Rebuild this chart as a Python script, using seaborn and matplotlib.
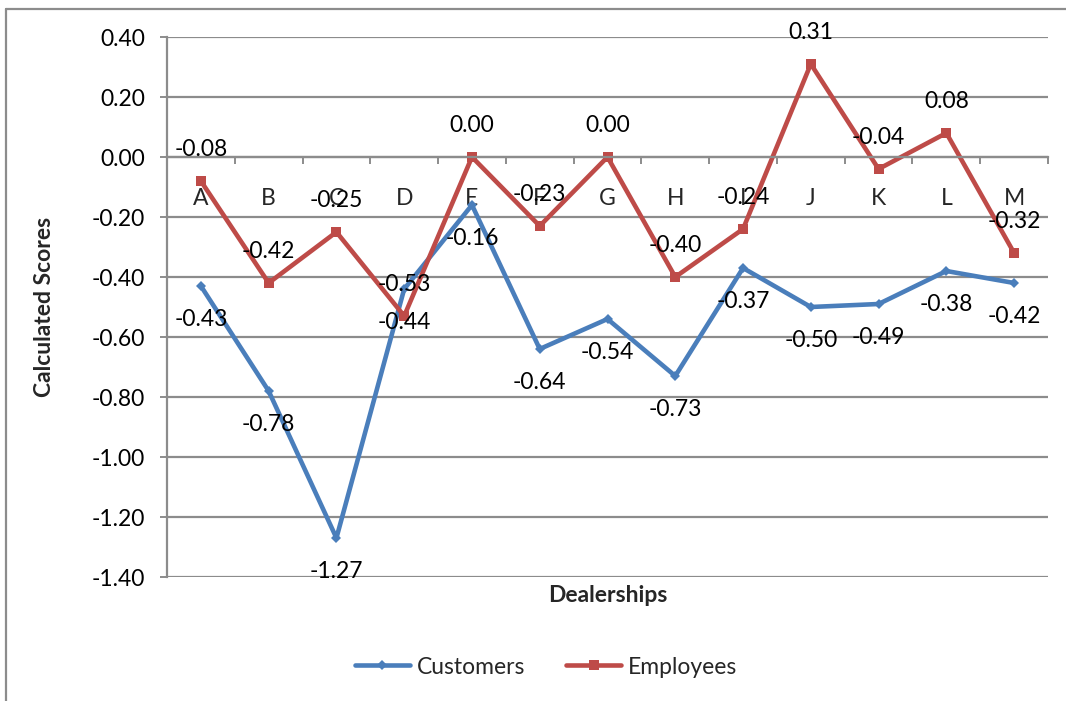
import matplotlib
matplotlib.use("Agg")
import matplotlib.pyplot as plt
from matplotlib.lines import Line2D
from matplotlib.ticker import FixedLocator, NullFormatter, FixedFormatter
import numpy as np
import pandas as pd
import seaborn as sns

# Dealership survey scores
dealerships = ["A", "B", "C", "D", "E", "F", "G", "H", "I", "J", "K", "L", "M"]
customers = [-0.43, -0.78, -1.27, -0.44, -0.16, -0.64, -0.54, -0.73, -0.37, -0.50, -0.49, -0.38, -0.42]
employees = [-0.08, -0.42, -0.25, -0.53, 0.00, -0.23, 0.00, -0.40, -0.24, 0.31, -0.04, 0.08, -0.32]
y_ticks = [0.40, 0.20, 0.00, -0.20, -0.40, -0.60, -0.80, -1.00, -1.20, -1.40]

sns.set_theme(style="white")
plt.rcParams["font.family"] = ["Lato", "DejaVu Sans"]

BLUE = "#4A7EBB"
RED = "#BE4B48"
GRID = "#8C8C8C"
FS = 16.5

pos = np.arange(len(dealerships))
df_c = pd.DataFrame({"pos": pos, "score": customers})
df_e = pd.DataFrame({"pos": pos, "score": employees})

fig = plt.figure(figsize=(10.66, 7.01), dpi=100)
ax = fig.add_axes([167 / 1066, 1 - 577 / 701, (1048 - 167) / 1066, (577 - 37) / 701])

sns.lineplot(data=df_c, x="pos", y="score", ax=ax, color=BLUE, lw=3.3,
             marker="D", markersize=5, markeredgewidth=0, label="Customers")
sns.lineplot(data=df_e, x="pos", y="score", ax=ax, color=RED, lw=3.3,
             marker="s", markersize=7.5, markeredgewidth=0, label="Employees")

ax.set_xlim(-0.5, len(dealerships) - 0.5)
ax.set_ylim(min(y_ticks), max(y_ticks))

# horizontal gridlines
ax.yaxis.set_major_locator(FixedLocator(y_ticks))
ax.set_yticklabels([f"{t:.2f}" for t in y_ticks], fontsize=FS)
ax.grid(axis="y", color=GRID, lw=1.6)
ax.grid(axis="x", visible=False)
ax.tick_params(axis="y", which="major", length=5, width=1.4, color=GRID, pad=11,
               direction="out", left=True, labelcolor="black")

# category axis crosses at zero
for s in ["top", "right"]:
    ax.spines[s].set_visible(False)
ax.spines["left"].set_color(GRID)
ax.spines["left"].set_linewidth(1.6)
ax.spines["bottom"].set_position(("data", 0))
ax.spines["bottom"].set_color(GRID)
ax.spines["bottom"].set_linewidth(1.6)
ax.xaxis.set_major_locator(FixedLocator(np.arange(-0.5, len(dealerships), 1.0)))
ax.xaxis.set_major_formatter(NullFormatter())
ax.xaxis.set_minor_locator(FixedLocator(pos))
ax.xaxis.set_minor_formatter(FixedFormatter(dealerships))
ax.tick_params(axis="x", which="major", length=5, width=1.4, color=GRID,
               direction="out", bottom=True)
ax.tick_params(axis="x", which="minor", length=0, pad=22, labelsize=FS, bottom=True)

# data labels
for i, v in enumerate(customers):
    ax.annotate(f"{v:.2f}", (pos[i], v), xytext=(0, -24), textcoords="offset points",
                ha="center", va="center", fontsize=FS, color="black", zorder=5)
for i, v in enumerate(employees):
    ax.annotate(f"{v:.2f}", (pos[i], v), xytext=(0, 23), textcoords="offset points",
                ha="center", va="center", fontsize=FS, color="black", zorder=5)

ax.set_xlabel("Dealerships", fontsize=16.5, fontweight="bold")
ax.xaxis.set_label_coords(0.5, -0.014)
ax.xaxis.label.set_va("top")
ax.set_ylabel("Calculated Scores", fontsize=16.5, fontweight="bold")
ax.yaxis.set_label_coords(-0.127, 0.5)

ax.legend(loc="center", bbox_to_anchor=(546 / 1066, 1 - 667 / 701),
          bbox_transform=fig.transFigure, ncol=2, frameon=False, fontsize=FS,
          handlelength=2.4, columnspacing=1.8, handletextpad=0.3)

# chart area border
fig.add_artist(Line2D([6 / 1066, 6 / 1066], [0, 1 - 9 / 701], transform=fig.transFigure,
                      color=GRID, lw=1.6))
fig.add_artist(Line2D([6 / 1066, 1], [1 - 9 / 701, 1 - 9 / 701], transform=fig.transFigure,
                      color=GRID, lw=1.6))

fig.savefig("out.png", dpi=100)
